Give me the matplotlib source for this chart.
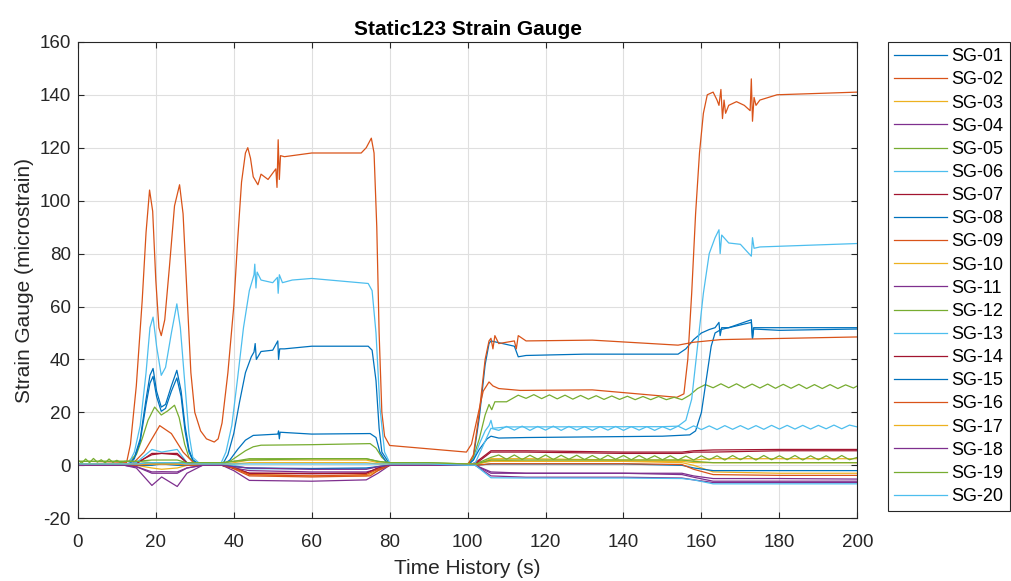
import matplotlib
matplotlib.use("Agg")
import matplotlib.pyplot as plt

plt.rcParams['font.family'] = ['Liberation Sans', 'DejaVu Sans']
plt.rcParams['axes.unicode_minus'] = False

# MATLAB default line colours, cycled over the 20 gauges
colors = ['#0072BD', '#D95319', '#EDB120', '#7E2F8E', '#77AC30', '#4DBEEE', '#A2142F']
labels = ['SG-%02d' % i for i in range(1, 21)]

# shared time knots for the small gauges
t_small = [0, 12, 15, 19, 21.5, 25.5, 28, 32, 37, 40, 44, 60, 74, 77, 80, 90, 100, 102, 106, 115, 140, 155, 158, 163, 180, 200]
# knots for the gauges that ripple after ~106 s (every 2 s)
t_head = [0, 12, 15, 19, 21.5, 25.5, 28, 32, 37, 40, 44, 60, 74, 77, 80, 90, 100, 102, 106]
t_tail = list(range(108, 201, 2))

# --- big gauges, each with its own time knots
t01 = [0, 13, 14.5, 16, 17.5, 18.5, 19.3, 20.2, 21.4, 22.5, 24, 25.4, 26.5, 27.5, 28.5, 29.5, 31,
       37, 38.5, 40, 41.5, 43, 44.5, 45.2, 45.5, 45.8, 47, 50, 51.3, 51.5, 51.8, 53, 60, 74.5, 75.5, 76.5, 77.3, 78, 80,
       100, 101.5, 103, 104.5, 105.5, 106, 112, 113, 115, 130, 154, 156, 158, 160, 162, 163.5,
       164.5, 164.8, 165.2, 167, 172.8, 173.1, 173.4, 175, 200]
y01 = [0, 0, 3, 10, 25, 34, 36.6, 28, 22, 23, 30, 35.9, 28, 15, 6, 2, 0.5,
       0, 4, 12, 24, 35, 41, 42.8, 46, 40, 43, 43.5, 47, 40, 44, 44, 45, 45, 43.5, 32, 14, 5, 0.5,
       0, 3, 18, 38, 46, 47, 45, 41, 41.5, 42, 42, 44, 47.5, 50, 51.3, 52,
       54, 49, 52, 52, 55, 48, 52, 52, 52]

t02 = [0, 12.5, 13.5, 15, 16.5, 17.5, 18.4, 19.2, 20, 20.8, 21.4, 22.3, 23.5, 24.8, 26.1, 27, 28, 29, 30, 31.5, 33, 35,
       36, 37, 38.5, 40, 41, 42, 43, 43.6, 44.3, 45, 46.2, 47, 48.8, 50.8, 51.1, 51.4, 51.7, 52, 53,
       60, 72.7, 74, 75.3, 76, 76.7, 77.3, 78, 78.7, 80, 99.7, 101, 102.5, 104, 105.5, 106.5, 108, 113.5, 132, 153.7,
       155.5, 156.5, 157.5, 158.5, 159.5, 160.5, 161.5, 163, 164, 164.5, 165, 165.4, 165.8, 166.2, 167, 169, 171,
       172.5, 172.8, 173.1, 173.5, 174, 175, 179.4, 200]
y02 = [0.5, 1, 8, 30, 62, 88, 104, 96, 70, 52, 49, 55, 75, 98, 106, 95, 65, 35, 20, 13, 10, 8.8,
       10, 16, 35, 60, 85, 107, 118, 120, 116, 109, 106, 110, 108, 112, 105, 123, 108, 117, 116.6,
       118, 118, 120, 123.6, 118, 90, 50, 20, 11, 7.5, 5, 8, 18, 28, 31.5, 30, 29, 28.3, 28.5, 25.7,
       27, 40, 65, 95, 118, 133, 140, 141, 138, 136, 142, 131, 138, 133, 136, 137.4, 136,
       134, 146, 130, 139, 136, 138, 140, 141]

t05 = ([0, 13, 15, 16.5, 18, 19.7, 21.4, 23, 24.8, 26, 27.4, 28.5, 30,
        37, 39, 41, 43, 45, 47, 60, 75, 76.5, 78, 80,
        100, 101.5, 103, 104.5, 105.5, 106.2, 107, 110]
       + list(range(113, 156, 2)) + [157, 159, 161] + list(range(163, 200, 2)) + [200])
y05 = [1.5, 1.5, 4, 10, 17, 22, 19, 20.5, 22.7, 18, 8, 3, 1,
       0.5, 1.5, 3.5, 5.5, 7, 7.6, 7.8, 8.2, 6.5, 3, 0.5,
       0.5, 3, 10, 19, 23, 21, 24, 24,
       26.5, 25.3, 26.7, 25.2, 26.6, 25.1, 26.5, 25.0, 26.4, 25.0, 26.3, 24.9, 26.2, 24.9, 26.1, 24.8,
       26.0, 24.8, 26.0, 24.8, 25.7, 24.8,
       26.5, 29, 30.5,
       29.3, 30.8, 29.3, 30.8, 29.2, 30.7, 29.2, 30.7, 29.1, 30.6, 29.1, 30.6, 29.0, 30.5, 29.0, 30.5,
       29.0, 30.4, 29.2,
       30]

t06 = [0, 13, 14.5, 16, 17.5, 18.5, 19.3, 20.2, 21.4, 22.5, 24, 25.4, 26.3, 27.5, 28.5, 29.5, 31,
       36.8, 38, 39.5, 41, 42.5, 44, 45.2, 45.4, 45.7, 46, 47, 50, 51.2, 51.4, 51.7, 52.5, 55, 60,
       74.5, 75.5, 76.5, 77.5, 78.7, 80,
       100, 101.5, 103, 104.5, 105.5, 106, 106.5, 110, 150, 154, 156, 157.5, 159, 160.5, 162, 163.5,
       164.5, 164.8, 165.2, 167, 170, 172.8, 173.1, 173.5, 175, 200]
y06 = [0.5, 0.5, 5, 15, 35, 52, 56, 45, 34, 37, 50, 61, 52, 30, 12, 3, 1,
       1, 5, 15, 33, 52, 66, 72, 76, 67, 73, 70, 69, 71, 65, 72, 69, 70, 70.6,
       68.7, 66, 50, 22, 5, 1,
       0, 2, 8, 13, 15, 17, 14, 14.5, 14.6, 14.8, 17, 25, 45, 65, 80, 86,
       89, 80, 87, 84, 83.5, 79, 86, 82, 82.5, 83.8]

t08 = [0, 13, 14.5, 16, 17.5, 18.5, 19.3, 20.2, 21.4, 22.5, 24, 25.4, 26.5, 27.5, 28.5, 29.5, 31,
       37, 39, 41, 43, 45, 51.3, 51.5, 51.7, 51.9, 60, 75, 76.5, 77.5, 79, 80,
       100, 101.5, 103, 105, 106, 108, 115, 150, 157, 158.5, 160, 161.5, 162.5, 163.5, 165,
       172.8, 173.1, 173.4, 180, 200]
y08 = [0, 0, 2.5, 9, 23, 31, 33.6, 26, 20.4, 21.5, 28, 33, 26, 13, 5, 2, 0.5,
       0, 2, 6, 9.5, 11.3, 11.8, 13, 10, 12.5, 11.8, 12, 10.5, 5, 1.5, 0.5,
       0, 2, 6, 10, 11, 10.3, 10.5, 11, 11.5, 13, 20, 35, 45, 50, 51.3,
       54, 48, 51.5, 51, 51.5]

t09 = [0, 14, 17, 21, 24, 27, 30, 38, 41, 44, 60, 75, 77, 80,
       100, 101.5, 103, 104.5, 105.5, 106, 106.5, 107, 108, 112, 112.5, 113, 115, 132, 154, 158, 165, 200]
y09 = [0.5, 0.5, 5, 15, 12, 5, 0.5, 0, -2, -4, -4.4, -4, -2, 0,
       0, 4, 20, 40, 47, 48, 44, 49, 46, 47, 44, 49, 47, 47.3, 45.4, 46.5, 47.5, 48.5]

# --- small gauges on the shared knots
y03 = [0.5, 0.5, 0, -1, -1.5, -1, 0, 0, 0, -0.5, -3.5, -4, -4, -2, 0, 0, 0, 0, 2, 1.5, 1.5, 1, 0, -2.5, -3, -3]
y04 = [0, 0, -1, -7.6, -4.4, -8, -3, 0, 0, -2, -5.7, -6, -5.5, -3, 0, 0, 0, 0, -2.5, -3, -3, -3.5, -4.5, -6, -6, -6]
y07 = [0.5, 0.5, 1, 4, 4.5, 4, 1, 0, 0, -1, -3, -3, -3, -1, 0, 0, 0, 1, 5.5, 5.5, 5, 5, 5.5, 5.8, 6, 6]
y10 = [0.5, 0.5, 0.5, 1, 1, 1, 0.5, 0, 0, 1, 2, 2, 2, 1, 0.5, 0.5, 0, 0, 2.5, 2.5, 2, 2, 2, 2.5, 2.5, 2.5]
y11 = [0, 0, -0.5, -2.5, -2.4, -2.5, -1, 0, 0, -1, -2, -2.5, -2.5, -1.5, 0, 0, 0, 0, -3, -3, -3, -3, -4, -5, -5, -5.2]
y12 = ([1.5, 1.5, 1.5, 2, 2, 2, 1, 1, 1, 1.5, 2, 2.5, 2.5, 1.5, 1, 1, 0.5, 0.5, 3]
       + [3.9, 2.3, 3.9, 2.2, 3.8, 2.3, 3.9, 2.2, 3.8, 2.3, 3.8, 2.2, 3.7, 2.2, 3.8, 2.3, 3.7, 2.1, 3.7, 2.2,
          3.6, 2.1, 3.6, 2.0, 3.5, 2.0, 3.6, 2.1, 3.6, 2.0, 3.7, 2.1, 3.6, 2.0, 3.7, 2.1, 3.6, 2.1, 3.7, 2.0,
          3.6, 2.1, 3.6, 2.0, 3.7, 2.1, 3.0])
y13 = ([0.5, 0.5, 1, 6, 5, 6, 1, 0.5, 0, 0, -1.3, -1.3, -1.3, -0.5, 0, 0, 0, 1, 14]
       + [13.2, 14.7, 13.3, 14.8, 13.2, 14.7, 13.3, 14.8, 13.2, 14.7, 13.3, 14.6, 13.2, 14.6, 13.3, 14.7,
          13.2, 14.6, 13.3, 14.6, 13.2, 14.6, 13.4, 14.8, 13.4, 14.9, 13.5, 14.9, 13.5, 15.0, 13.6, 15.0,
          13.6, 15.0, 13.6, 15.1, 13.7, 15.1, 13.7, 15.1, 13.7, 15.1, 13.8, 15.2, 13.8, 15.2, 14.5])
y14 = [0, 0, 0.5, 4.5, 4.5, 4.5, 1, 0, 0, -1, -3, -3.2, -3, -1, 0, 0, 0, 0.5, 5, 5, 4.5, 4.5, 5, 5, 5.5, 5.5]
y15 = [0, 0, 0, 0, 0.5, 0, 0, 0, 0, -0.5, -1, -1.2, -1, -0.5, 0, 0, 0, 0, 0.5, 0.5, 0.5, 0, -1, -2, -2, -2]
y16 = [0, 0, 0, 0.5, 0.5, 0.5, 0, 0, 0, -1, -3.5, -4, -3.5, -1.5, 0, 0, 0, 0, 0.6, 0.6, 0.6, 0.3, -1.5, -3.5, -3.8, -3.8]
y17 = [0.5, 0.5, 0.5, 0.5, 0.5, 0.5, 0.5, 0.5, 0.5, 0.5, 1, 1, 1, 0.5, 0.5, 0.5, 0.5, 0.5, 1.5, 1.5, 1.5, 1.5, 1, 1, 1, 1]
y18 = [0, 0, -0.5, -3, -3, -3, -1, 0, 0, -0.5, -1, -1.5, -1.5, -0.5, 0, 0, 0, 0, -4, -4.5, -4.5, -4.8, -5.5, -6.5, -6.5, -6.5]
t19 = [0, 1, 2, 3, 4, 5, 6, 7, 8, 9, 10, 11] + t_small[1:]
y19 = ([2, 0.8, 2.4, 1.0, 2.6, 1.2, 2.1, 0.9, 2.4, 1.1, 1.9, 1.0]
       + [1.5, 1.5, 1, 1, 1, 1, 1, 1, 1.5, 2.5, 2.5, 2.5, 1.5, 1, 1, 0.5, 0.5, 2, 2, 2, 2, 1.5, 1, 1, 1])
y20 = [0.5, 0.5, 0.5, 1, 1, 1, 0.5, 0.5, 0.5, 0.5, 0.5, 0.5, 0.5, 0.5, 0.5, 0.5, 0, 0, -4.7, -4.8, -4.8, -5, -5.5, -7, -7, -7]

series = [(t01, y01), (t02, y02), (t_small, y03), (t_small, y04), (t05, y05), (t06, y06), (t_small, y07),
          (t08, y08), (t09, y09), (t_small, y10), (t_small, y11), (t_head + t_tail, y12), (t_head + t_tail, y13),
          (t_small, y14), (t_small, y15), (t_small, y16), (t_small, y17), (t_small, y18), (t19, y19), (t_small, y20)]

fig = plt.figure(figsize=(10.11, 5.81), dpi=100)
ax = fig.add_axes([0.077, 0.108, 0.771, 0.82])

for i, (t, y) in enumerate(series):
    ax.plot(t, y, color=colors[i % 7], lw=0.9, label=labels[i])

ax.set_xlim(0, 200)
ax.set_ylim(-20, 160)
ax.set_xticks(range(0, 201, 20))
ax.set_yticks(range(-20, 161, 20))
ax.grid(True, color='#dfdfdf', lw=0.8)
ax.set_axisbelow(True)
ax.tick_params(direction='in', top=True, right=True, length=4, labelsize=13.5, colors='#262626')
ax.tick_params(axis='y', pad=5)
ax.tick_params(axis='x', pad=11)
for s in ax.spines.values():
    s.set_color('#262626')
    s.set_linewidth(0.8)

ax.set_title('Static123 Strain Gauge', fontsize=15, fontweight='bold', color='black', pad=5)
ax.set_xlabel('Time History (s)', fontsize=15, color='#262626', labelpad=6)
ax.set_ylabel('Strain Gauge (microstrain)', fontsize=15, color='#262626', labelpad=4)

leg = ax.legend(loc='upper left', bbox_to_anchor=(888 / 1011, 539 / 581), bbox_transform=fig.transFigure,
                borderaxespad=0, fontsize=13, handlelength=2.9, handletextpad=0.25, labelspacing=0.34,
                borderpad=0.35, fancybox=False, framealpha=1, edgecolor='#262626')
leg.get_frame().set_linewidth(0.8)

fig.savefig('out.png', dpi=100)
